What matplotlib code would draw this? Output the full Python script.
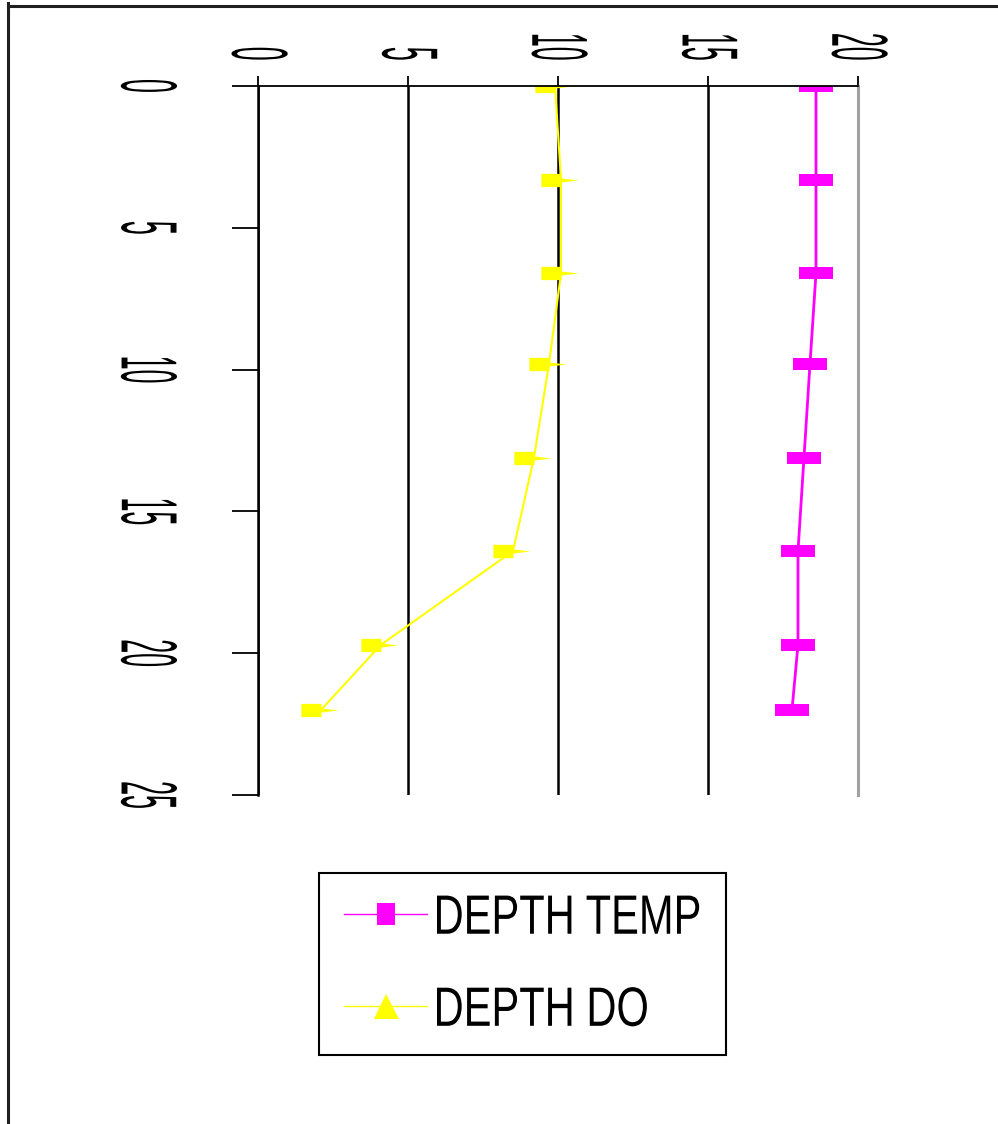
import matplotlib
matplotlib.use('Agg')
import matplotlib.pyplot as plt
from matplotlib import patheffects
from matplotlib.path import Path
from matplotlib.lines import Line2D
from matplotlib.transforms import Affine2D

plt.rcParams['font.family'] = ['Liberation Sans', 'DejaVu Sans']

# depth (ft) down the page, readings across
depth = [0, 3.3, 6.6, 9.8, 13.1, 16.4, 19.7, 22.0]
temp = [18.6, 18.6, 18.6, 18.4, 18.2, 18.0, 18.0, 17.8]
do = [9.9, 10.1, 10.1, 9.7, 9.2, 8.5, 4.1, 2.1]
x_ticks = [0, 5, 10, 15, 20]
y_ticks = [0, 5, 10, 15, 20, 25]
labels = ['DEPTH TEMP', 'DEPTH DO']


class Stretch(patheffects.AbstractPathEffect):
    # the old Excel export has tall squashed glyphs, stretch them around their middle
    def __init__(self, sy):
        super().__init__()
        self.sy = sy

    def draw_path(self, renderer, gc, tpath, affine, rgbFace=None):
        ext = tpath.get_extents()
        cy = (ext.y0 + ext.y1) / 2
        pre = Affine2D().translate(0, -cy).scale(1, self.sy).translate(0, cy)
        renderer.draw_path(gc, tpath, pre + affine, rgbFace)


# squashed markers as they came out of the rotated chart
rect = Path([(-1, -0.38), (1, -0.38), (1, 0.38), (-1, 0.38), (-1, -0.38)], closed=True)
tri = Path([(-1, -0.33), (0, -0.33), (0, -0.1), (0.85, 0), (0, 0.1), (0, 0.33),
            (-1, 0.33), (-1, -0.33)], closed=True)
sq_leg = Path([(-0.41, -0.5), (0.41, -0.5), (0.41, 0.5), (-0.41, 0.5), (-0.41, -0.5)], closed=True)

fig = plt.figure(figsize=(9.98, 11.24), dpi=100)
ax = fig.add_axes([258/998, 1 - 795/1124, 600/998, 709/1124])

ax.plot(temp, depth, color='#ff00ff', lw=2, marker=rect, ms=24.5, mew=0)
ax.plot(do, depth, color='#ffff00', lw=1.5, marker=tri, ms=29, mew=0)

ax.set_xlim(0, 20)
ax.set_ylim(25, 0)
ax.set_xticks(x_ticks)
ax.set_yticks(y_ticks)
ax.xaxis.tick_top()
ax.grid(axis='x', color='black', lw=1.8)
ax.spines['bottom'].set_visible(False)
ax.spines['right'].set_color('#a0a0a0')
ax.spines['right'].set_linewidth(2.2)
ax.spines['top'].set_linewidth(1.3)
ax.spines['left'].set_linewidth(1.8)
ax.tick_params(axis='x', direction='out', length=7.2, width=1.3, pad=11, labelsize=18)
ax.tick_params(axis='y', direction='out', length=18.7, width=1.3, pad=61, labelsize=18)
plt.setp(ax.get_xticklabels(), rotation=270, path_effects=[Stretch(3.18)])
plt.setp(ax.get_yticklabels(), rotation=270, ha='center', va='center',
         path_effects=[Stretch(3.18)])

handles = [Line2D([], [], color='#ff00ff', lw=1, marker=sq_leg, ms=16, mew=0),
           Line2D([], [], color='#ffff00', lw=1, marker='^', ms=18, mew=0)]
leg = fig.legend(handles, labels, loc='upper left', bbox_to_anchor=(319/998, 1 - 873/1124),
                 fontsize=30, frameon=True, fancybox=False, edgecolor='black', framealpha=1,
                 borderpad=0.6, handlelength=2.0, handletextpad=0.15, labelspacing=1.25,
                 borderaxespad=0)
leg.get_frame().set_linewidth(1.5)
for t in leg.get_texts():
    t.set_path_effects([Stretch(1.33)])

# page border left and top
fig.add_artist(Line2D([8/998, 8/998], [0, 1 - 3/1124], transform=fig.transFigure,
                      color='#202020', lw=2.2))
fig.add_artist(Line2D([8/998, 1], [1 - 5.5/1124, 1 - 5.5/1124], transform=fig.transFigure,
                      color='#202020', lw=2.2))

fig.savefig('out.png', dpi=100)
